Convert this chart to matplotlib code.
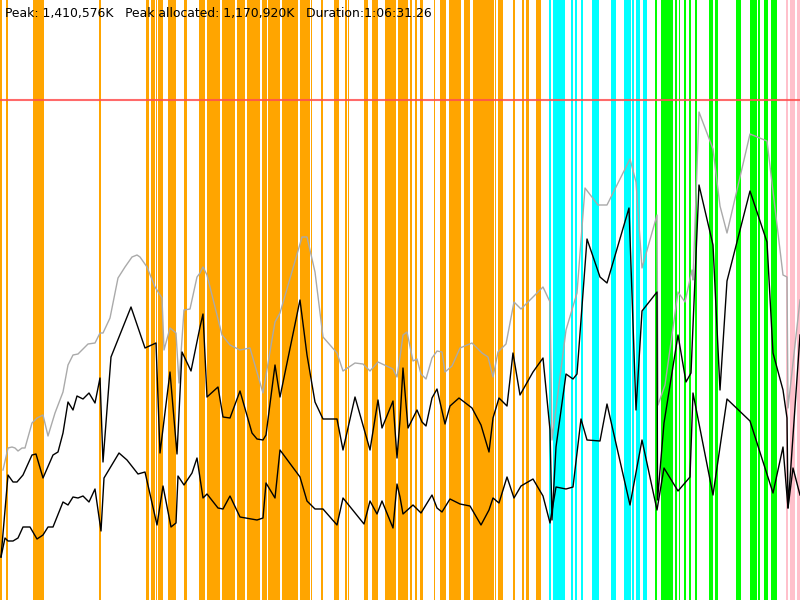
import numpy as np
import matplotlib
matplotlib.use("Agg")
import matplotlib.pyplot as plt

# header
header = "Peak: 1,410,576K   Peak allocated: 1,170,920K   Duration:1:06:31.26"

# gc event bands (time position start, end) per kind
orange_bands = [(0, 2), (5.5, 8), (33, 44), (99, 101), (146, 149), (151, 155), (156, 157), (158, 163),
                (168, 176), (184, 187), (199, 205), (207, 220), (222, 235), (237, 245), (247, 260),
                (262, 267), (268, 280), (282, 298), (300, 310), (311, 312), (321, 323), (334, 339),
                (345, 347), (348, 349), (364, 368), (372, 378), (385, 396), (398, 408), (410, 412),
                (415, 417), (420, 423), (434, 435), (440, 446), (449, 461), (464, 470), (473, 494),
                (495, 496), (498, 503), (513, 515), (522, 524), (526, 529), (536, 541)]
cyan_bands = [(549, 551), (553, 565), (571, 573), (575, 577), (581, 583), (592, 599), (611, 616),
              (624, 631), (632, 634), (636, 640), (643, 647)]
green_bands = [(655, 657), (661, 673), (675, 677), (679, 680), (684, 686), (689, 691), (695, 697),
               (709, 713), (715, 718), (736, 741), (750, 757), (758, 760), (764, 768), (771, 777)]
pink_bands = [(786, 788), (790, 795), (797, 800)]

peak_level = 100

# heap total (gray)
gray_x = [3, 8, 12, 15, 18, 22, 25, 32, 37, 43, 48, 55, 63, 68, 73, 78, 88, 95, 100, 103, 110, 118,
          125, 132, 137, 140, 147, 155, 162, 164, 170, 176, 179, 184, 190, 197, 200, 203, 207, 222,
          230, 240, 250, 263, 275, 280, 302, 307, 315, 323, 337, 343, 355, 363, 370, 378, 393, 397,
          400, 403, 407, 413, 417, 421, 426, 432, 437, 442, 445, 452, 460, 472, 482, 488, 493, 498,
          506, 514, 521, 543, 550, 552, 566, 577, 585, 598, 607, 630, 636, 642, 657, 658, 665, 678,
          685, 692, 693, 699, 713, 720, 727, 750, 767, 783, 787, 788, 800]
gray_y = [470, 448, 447, 448, 451, 448, 448, 423, 418, 415, 436, 413, 392, 365, 355, 354, 344, 343,
          333, 333, 318, 278, 267, 257, 255, 257, 267, 287, 298, 350, 328, 333, 383, 310, 309, 277,
          273, 267, 275, 335, 345, 350, 348, 393, 322, 313, 237, 237, 272, 337, 353, 371, 363, 364,
          371, 362, 369, 377, 357, 335, 332, 361, 359, 374, 379, 358, 351, 352, 372, 366, 348, 343,
          353, 357, 377, 352, 344, 302, 309, 287, 302, 440, 330, 293, 188, 205, 205, 159, 182, 268,
          215, 405, 385, 292, 302, 270, 280, 112, 149, 206, 233, 134, 141, 275, 277, 408, 300]

# used before gc (upper black)
upper_x = [1, 8, 13, 17, 23, 32, 36, 43, 53, 58, 63, 68, 73, 77, 83, 89, 95, 100, 103, 111, 131,
           145, 156, 160, 170, 177, 182, 191, 200, 203, 207, 218, 223, 230, 240, 252, 257, 263, 266,
           275, 280, 300, 307, 315, 323, 337, 343, 355, 370, 378, 382, 393, 397, 400, 403, 408, 417,
           422, 426, 432, 437, 445, 450, 459, 472, 481, 489, 493, 499, 507, 513, 520, 533, 543, 550,
           552, 556, 566, 573, 577, 587, 600, 607, 629, 636, 642, 657, 657.5, 664, 678, 686, 691,
           699, 713, 720, 727, 750, 767, 773, 783, 787, 788, 800]
upper_y = [557, 475, 482, 482, 475, 455, 454, 478, 455, 452, 433, 402, 410, 396, 399, 393, 403, 378,
           462, 357, 307, 348, 343, 453, 372, 454, 352, 371, 327, 314, 397, 387, 417, 418, 391, 433,
           439, 440, 435, 365, 397, 300, 355, 402, 419, 419, 450, 397, 450, 400, 428, 401, 458, 420,
           368, 428, 410, 422, 426, 398, 389, 424, 406, 398, 408, 425, 452, 418, 398, 406, 353, 395,
           372, 358, 430, 520, 447, 374, 379, 374, 239, 277, 283, 208, 410, 311, 292, 500, 423, 335,
           382, 373, 185, 245, 390, 281, 191, 242, 353, 390, 418, 508, 335]

# used after gc (lower black)
lower_x = [1, 5, 8, 13, 18, 23, 30, 37, 43, 48, 53, 63, 68, 73, 78, 83, 89, 95, 101, 104, 119, 127,
           138, 145, 157, 163, 171, 176, 178, 184, 192, 197, 200, 203, 207, 218, 223, 230, 240, 257,
           263, 266, 275, 280, 300, 307, 315, 323, 337, 343, 364, 370, 377, 382, 393, 397, 400, 403,
           413, 421, 432, 437, 442, 450, 460, 470, 481, 489, 493, 499, 507, 514, 521, 533, 543, 550,
           556, 566, 573, 581, 587, 600, 607, 630, 642, 657, 664, 678, 690, 693, 713, 727, 750, 773,
           783, 788, 793, 800]
lower_y = [557, 538, 541, 541, 538, 527, 527, 539, 535, 527, 527, 502, 505, 497, 498, 496, 502, 489,
           531, 478, 453, 460, 474, 472, 525, 486, 527, 523, 476, 485, 473, 458, 478, 498, 494, 508,
           509, 496, 517, 520, 518, 483, 498, 450, 477, 501, 509, 509, 525, 498, 524, 501, 514, 501,
           528, 484, 497, 514, 505, 513, 495, 508, 512, 499, 504, 506, 525, 510, 498, 503, 477, 498,
           486, 479, 496, 523, 487, 489, 487, 419, 440, 441, 404, 505, 440, 510, 468, 491, 477, 393,
           495, 399, 421, 493, 447, 508, 468, 495]

fig = plt.figure(figsize=(8, 6), dpi=100)
ax = fig.add_axes([0, 0, 1, 1])
ax.set_xlim(0, 800)
ax.set_ylim(600, 0)
ax.axis('off')

for bands, col in [(orange_bands, '#FFA500'), (cyan_bands, '#00FFFF'),
                   (green_bands, '#00FF00'), (pink_bands, '#FFC0CB')]:
    for s, e in bands:
        ax.axvspan(s, e, color=col, lw=0)

ax.axhline(peak_level, color='#FF5050', lw=1.5, alpha=0.85)
ax.plot(gray_x, gray_y, color='#AAAAAA', lw=1)
ax.plot(upper_x, upper_y, color='black', lw=1)
ax.plot(lower_x, lower_y, color='black', lw=1)

ax.text(5, 13, header, fontsize=8.9, va='center', ha='left', color='black')

fig.savefig('out.png', dpi=100)
